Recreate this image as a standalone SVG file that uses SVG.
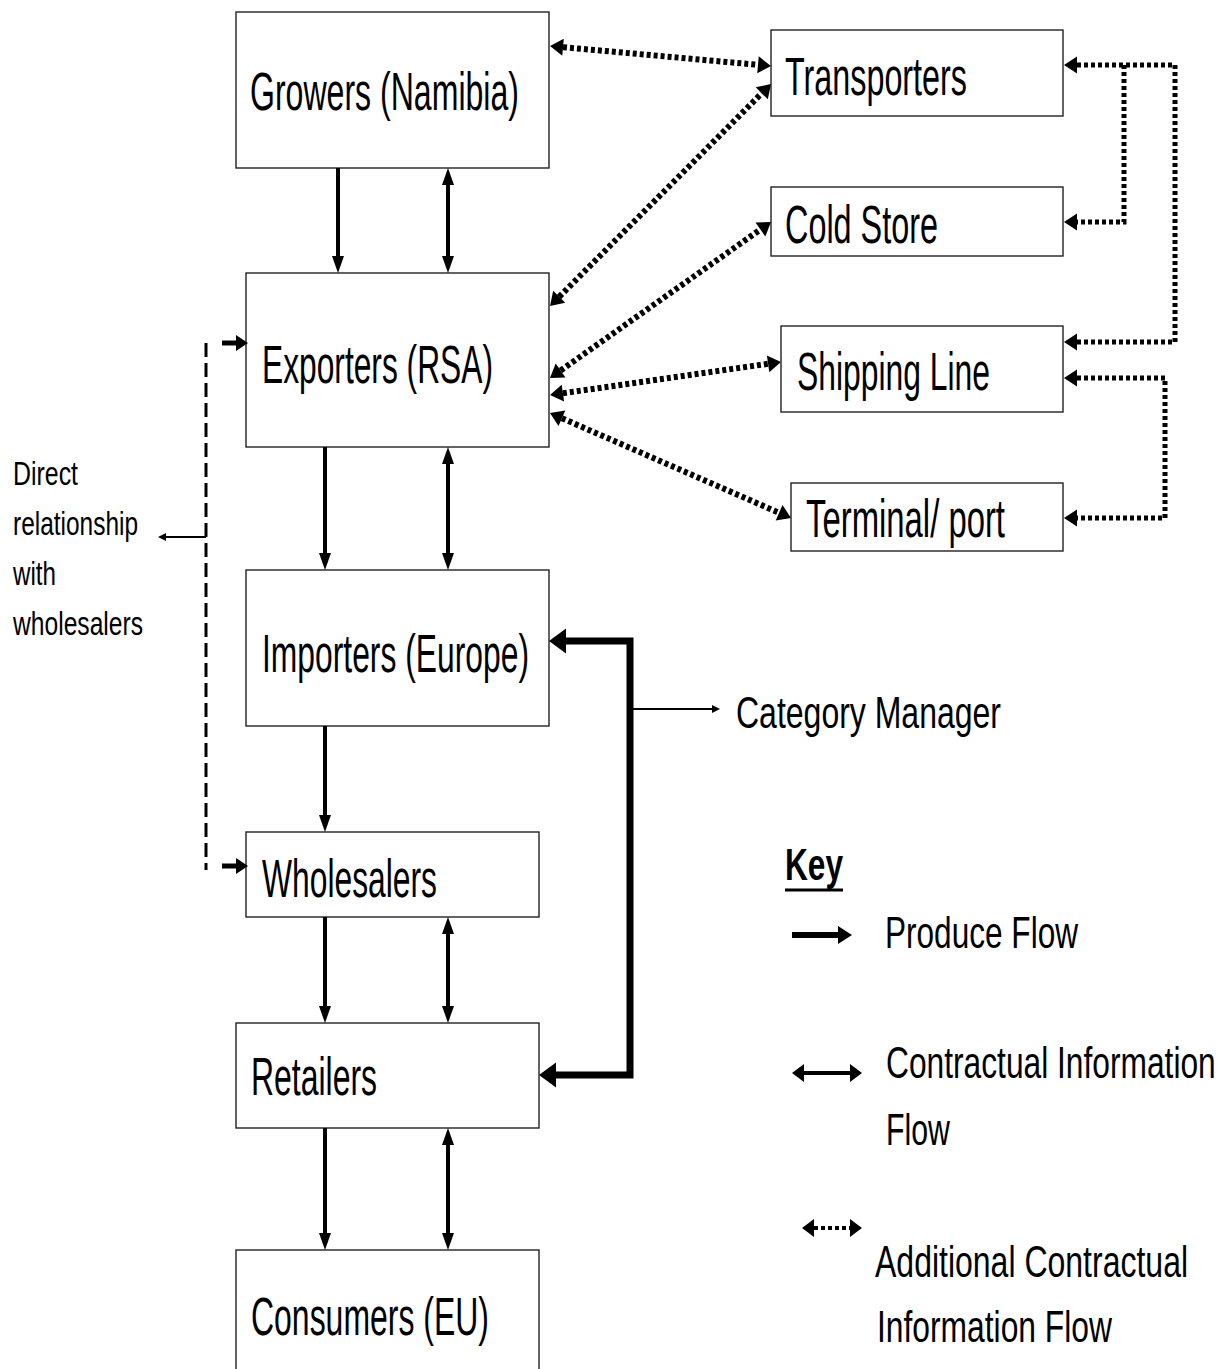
<svg xmlns="http://www.w3.org/2000/svg" width="1229" height="1369" viewBox="0 0 1229 1369">
<style>
.box{fill:#fff;stroke:#222;stroke-width:1.4}
.t{font-family:"Liberation Sans Narrow","Liberation Sans",Arial,sans-serif;fill:#000}
.lbl{font-size:54px}
.leg{font-size:44px}
.side{font-size:33px}
.solid{stroke:#000;stroke-width:4;fill:none}
.dot{stroke:#000;stroke-width:6;stroke-dasharray:4 3;fill:none}
.dotr{stroke:#000;stroke-width:5;stroke-dasharray:4 3;fill:none}
.thick{stroke:#000;stroke-width:7;fill:none;stroke-linejoin:miter}
.thin{stroke:#000;stroke-width:2;fill:none}
.dash{stroke:#000;stroke-width:3;stroke-dasharray:14 6;fill:none}
</style>
<defs>
<marker id="ah" markerUnits="userSpaceOnUse" markerWidth="17" markerHeight="12" refX="0" refY="6" orient="auto-start-reverse" overflow="visible"><path d="M0,0 L17,6 L0,12 z" fill="#000"/></marker>
<marker id="ahd" markerUnits="userSpaceOnUse" markerWidth="13" markerHeight="17" refX="0" refY="8.5" orient="auto-start-reverse" overflow="visible"><path d="M0,0 L13,8.5 L0,17 z" fill="#000"/></marker>
<marker id="aht" markerUnits="userSpaceOnUse" markerWidth="17" markerHeight="25" refX="0" refY="12.5" orient="auto-start-reverse" overflow="visible"><path d="M0,0 L17,12.5 L0,25 z" fill="#000"/></marker>
<marker id="ahs" markerUnits="userSpaceOnUse" markerWidth="8" markerHeight="8" refX="0" refY="4" orient="auto-start-reverse" overflow="visible"><path d="M0,0 L8,4 L0,8 z" fill="#000"/></marker>
<marker id="ahm" markerUnits="userSpaceOnUse" markerWidth="12" markerHeight="16" refX="0" refY="8" orient="auto-start-reverse" overflow="visible"><path d="M0,0 L12,8 L0,16 z" fill="#000"/></marker>
<marker id="ahl" markerUnits="userSpaceOnUse" markerWidth="14" markerHeight="18" refX="0" refY="9" orient="auto-start-reverse" overflow="visible"><path d="M0,0 L14,9 L0,18 z" fill="#000"/></marker>
<marker id="ahk" markerUnits="userSpaceOnUse" markerWidth="12" markerHeight="18" refX="0" refY="9" orient="auto-start-reverse" overflow="visible"><path d="M0,0 L12,9 L0,18 z" fill="#000"/></marker>
</defs>

<g id="growers"><rect class="box" x="236" y="12" width="313" height="156"/><text class="t lbl" x="250" y="110" textLength="269" lengthAdjust="spacingAndGlyphs">Growers (Namibia)</text></g>
<g id="transporters"><rect class="box" x="771" y="30" width="292" height="86"/><text class="t lbl" x="785" y="95" textLength="182" lengthAdjust="spacingAndGlyphs">Transporters</text></g>
<g id="coldstore"><rect class="box" x="771" y="187" width="292" height="69"/><text class="t lbl" x="785" y="243" textLength="153" lengthAdjust="spacingAndGlyphs">Cold Store</text></g>
<g id="exporters"><rect class="box" x="246" y="273" width="303" height="174"/><text class="t lbl" x="262" y="383" textLength="231" lengthAdjust="spacingAndGlyphs">Exporters (RSA)</text></g>
<g id="shipping"><rect class="box" x="781" y="326" width="282" height="86"/><text class="t lbl" x="797" y="390" textLength="193" lengthAdjust="spacingAndGlyphs">Shipping Line</text></g>
<g id="terminal"><rect class="box" x="791" y="483" width="272" height="68"/><text class="t lbl" x="806" y="537" textLength="199" lengthAdjust="spacingAndGlyphs">Terminal/ port</text></g>
<g id="importers"><rect class="box" x="246" y="570" width="303" height="156"/><text class="t lbl" x="262" y="672" textLength="267" lengthAdjust="spacingAndGlyphs">Importers (Europe)</text></g>
<g id="wholesalers"><rect class="box" x="246" y="832" width="293" height="85"/><text class="t lbl" x="262" y="897" textLength="175" lengthAdjust="spacingAndGlyphs">Wholesalers</text></g>
<g id="retailers"><rect class="box" x="236" y="1023" width="303" height="105"/><text class="t lbl" x="251" y="1095" textLength="126" lengthAdjust="spacingAndGlyphs">Retailers</text></g>
<g id="consumers"><rect class="box" x="236" y="1250" width="303" height="130"/><text class="t lbl" x="251" y="1335" textLength="238" lengthAdjust="spacingAndGlyphs">Consumers (EU)</text></g>
<g id="category-manager"><text class="t leg" x="736" y="728" textLength="265" lengthAdjust="spacingAndGlyphs">Category Manager</text></g>
<g id="direct-note">
<text class="t side" x="13" y="485" textLength="65" lengthAdjust="spacingAndGlyphs">Direct</text>
<text class="t side" x="13" y="535" textLength="125" lengthAdjust="spacingAndGlyphs">relationship</text>
<text class="t side" x="13" y="585" textLength="43" lengthAdjust="spacingAndGlyphs">with</text>
<text class="t side" x="13" y="635" textLength="130" lengthAdjust="spacingAndGlyphs">wholesalers</text>
</g>

<g id="connectors">
<line class="solid" x1="338" y1="168" x2="338" y2="256" marker-end="url(#ah)"/>
<line class="solid" x1="448" y1="185" x2="448" y2="256" marker-start="url(#ah)" marker-end="url(#ah)"/>
<line class="solid" x1="325" y1="447" x2="325" y2="553" marker-end="url(#ah)"/>
<line class="solid" x1="448" y1="464" x2="448" y2="553" marker-start="url(#ah)" marker-end="url(#ah)"/>
<line class="solid" x1="325" y1="726" x2="325" y2="815" marker-end="url(#ah)"/>
<line class="solid" x1="325" y1="917" x2="325" y2="1006" marker-end="url(#ah)"/>
<line class="solid" x1="448" y1="934" x2="448" y2="1006" marker-start="url(#ah)" marker-end="url(#ah)"/>
<line class="solid" x1="325" y1="1128" x2="325" y2="1233" marker-end="url(#ah)"/>
<line class="solid" x1="448" y1="1145" x2="448" y2="1233" marker-start="url(#ah)" marker-end="url(#ah)"/>

<line class="dot" x1="563" y1="47.2" x2="758" y2="64.8" marker-start="url(#ahd)" marker-end="url(#ahd)"/>
<line class="dot" x1="559.2" y1="296.8" x2="761.8" y2="93.2" marker-start="url(#ahd)" marker-end="url(#ahd)"/>
<line class="dot" x1="560.6" y1="370.5" x2="760.4" y2="229.5" marker-start="url(#ahd)" marker-end="url(#ahd)"/>
<line class="dot" x1="562.9" y1="393.2" x2="768.1" y2="363.8" marker-start="url(#ahd)" marker-end="url(#ahd)"/>
<line class="dot" x1="561.9" y1="418.2" x2="779.1" y2="512.8" marker-start="url(#ahd)" marker-end="url(#ahd)"/>

<path class="dotr" d="M1077,65 L1175,65 L1175,342 L1077,342" marker-start="url(#ahd)" marker-end="url(#ahd)"/>
<path class="dotr" d="M1124,65 L1124,222 L1077,222" marker-end="url(#ahd)"/>
<path class="dotr" d="M1077,378 L1165,378 L1165,518 L1077,518" marker-start="url(#ahd)" marker-end="url(#ahd)"/>

<path class="thick" d="M566,641 L630,641 L630,1075 L556,1075" marker-start="url(#aht)" marker-end="url(#aht)"/>
<line class="thin" x1="630" y1="709" x2="712" y2="709" marker-end="url(#ahs)"/>

<line class="dash" x1="206" y1="343" x2="206" y2="870"/>
<line x1="222" y1="343" x2="236" y2="343" stroke="#000" stroke-width="5" marker-end="url(#ahm)"/>
<line x1="222" y1="866" x2="236" y2="866" stroke="#000" stroke-width="5" marker-end="url(#ahm)"/>
<line class="thin" x1="206" y1="537" x2="166" y2="537" marker-end="url(#ahs)"/>
</g>

<g id="key">
<text class="t leg" x="785" y="880" font-weight="bold" textLength="58" lengthAdjust="spacingAndGlyphs">Key</text>
<line x1="785" y1="890" x2="843" y2="890" stroke="#000" stroke-width="3"/>
<line x1="792" y1="935" x2="838" y2="935" stroke="#000" stroke-width="6" marker-end="url(#ahl)"/>
<text class="t leg" x="885" y="948" textLength="193" lengthAdjust="spacingAndGlyphs">Produce Flow</text>
<line x1="804" y1="1073" x2="850" y2="1073" stroke="#000" stroke-width="4" marker-start="url(#ahk)" marker-end="url(#ahk)"/>
<text class="t leg" transform="translate(886,1078) scale(0.72,1)" x="0" y="0" textLength="458" lengthAdjust="spacingAndGlyphs">Contractual Information</text>
<text class="t leg" x="886" y="1145" textLength="64" lengthAdjust="spacingAndGlyphs">Flow</text>
<line x1="814" y1="1228" x2="850" y2="1228" stroke="#000" stroke-width="4" stroke-dasharray="4 3" marker-start="url(#ahk)" marker-end="url(#ahk)"/>
<text class="t leg" transform="translate(875,1277) scale(0.728,1)" x="0" y="0" textLength="430" lengthAdjust="spacingAndGlyphs">Additional Contractual</text>
<text class="t leg" x="877" y="1342" textLength="235" lengthAdjust="spacingAndGlyphs">Information Flow</text>
</g>
</svg>
